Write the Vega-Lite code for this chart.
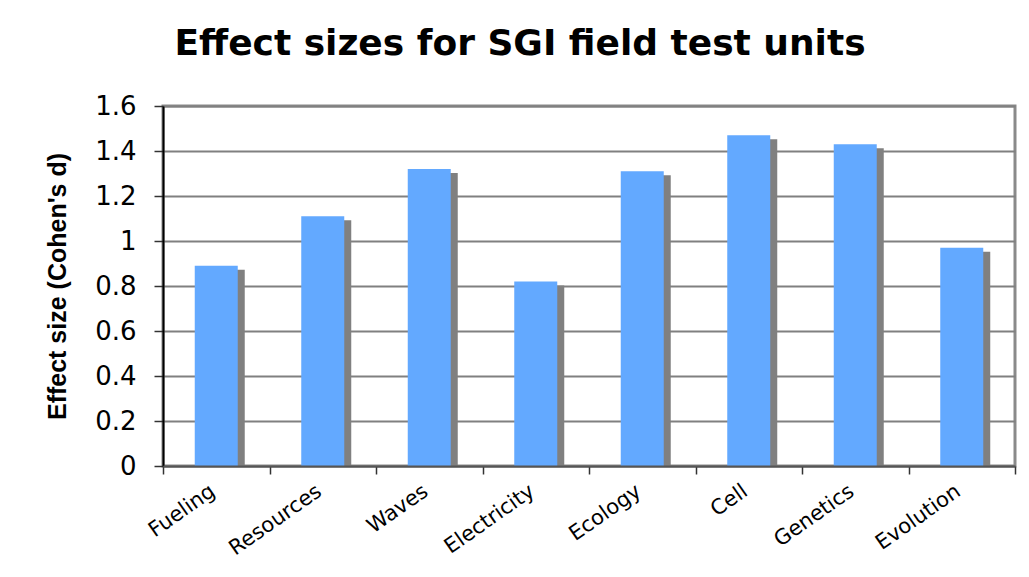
{
  "$schema": "https://vega.github.io/schema/vega-lite/v6.json",
  "width": 852,
  "height": 360,
  "autosize": "none",
  "padding": {"left": 163, "top": 106, "right": 14, "bottom": 111},
  "background": "white",
  "title": {
    "text": "Effect sizes for SGI field test units",
    "font": "DejaVu Sans",
    "fontSize": 36,
    "fontWeight": "bold",
    "color": "#000000",
    "anchor": "middle",
    "dx": -69,
    "offset": 30
  },
  "data": {
    "values": [
      {"unit": "Fueling", "d": 0.89},
      {"unit": "Resources", "d": 1.11},
      {"unit": "Waves", "d": 1.32},
      {"unit": "Electricity", "d": 0.82},
      {"unit": "Ecology", "d": 1.31},
      {"unit": "Cell", "d": 1.47},
      {"unit": "Genetics", "d": 1.43},
      {"unit": "Evolution", "d": 0.97}
    ]
  },
  "encoding": {
    "x": {
      "field": "unit",
      "type": "nominal",
      "sort": null,
      "scale": {"paddingInner": 0, "paddingOuter": 0},
      "axis": {
        "title": null,
        "labelAngle": -35,
        "labelFont": "DejaVu Sans",
        "labelFontSize": 21,
        "labelColor": "#000000",
        "labelOffset": -10,
        "tickBand": "extent",
        "tickSize": 8,
        "tickColor": "#333333",
        "tickWidth": 1.5,
        "domainColor": "#555555",
        "domainWidth": 2,
        "labelPadding": 6,
        "zindex": 1
      }
    },
    "y": {
      "field": "d",
      "type": "quantitative",
      "scale": {"domain": [0, 1.6], "nice": false},
      "axis": {
        "title": "Effect size (Cohen's d)",
        "titleFont": "Liberation Sans",
        "titleFontSize": 25,
        "titleFontWeight": "bold",
        "titleColor": "#000000",
        "titlePadding": 24,
        "values": [0, 0.2, 0.4, 0.6, 0.8, 1, 1.2, 1.4, 1.6],
        "format": "~g",
        "labelFont": "DejaVu Sans",
        "labelFontSize": 26,
        "labelColor": "#000000",
        "labelPadding": 18,
        "labelFlush": false,
        "labelOverlap": false,
        "tickSize": 9,
        "tickColor": "#333333",
        "tickWidth": 1.5,
        "domainColor": "#000000",
        "domainWidth": 2,
        "gridColor": "#808080",
        "gridWidth": 2,
        "zindex": 0
      }
    }
  },
  "layer": [
    {"mark": {"type": "bar", "size": 43, "color": "#808080", "xOffset": 7, "yOffset": 4, "clip": true}},
    {"mark": {"type": "bar", "size": 43, "color": "#63A9FF"}}
  ],
  "config": {"view": {"stroke": "#8a8a8a", "strokeWidth": 3}}
}
